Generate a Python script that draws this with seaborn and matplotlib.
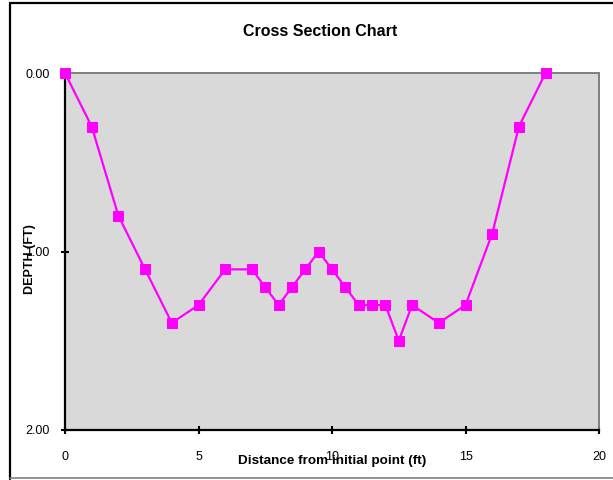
import matplotlib
matplotlib.use("Agg")
import matplotlib.pyplot as plt
import seaborn as sns
import pandas as pd
from matplotlib.lines import Line2D

distance = [0, 1, 2, 3, 4, 5, 6, 7, 7.5, 8, 8.5, 9, 9.5, 10, 10.5, 11, 11.5, 12, 12.5, 13, 14, 15, 16, 17, 18]
depth = [0.0, 0.3, 0.8, 1.1, 1.4, 1.3, 1.1, 1.1, 1.2, 1.3, 1.2, 1.1, 1.0, 1.1, 1.2, 1.3, 1.3, 1.3, 1.5, 1.3, 1.4, 1.3, 0.9, 0.3, 0.0]
x_ticks = [0, 5, 10, 15, 20]
y_ticks = [0.0, 1.0, 2.0]

sns.set_style("white")
plt.rcParams['font.family'] = ['Liberation Sans', 'DejaVu Sans']
plt.rcParams['text.color'] = 'black'
plt.rcParams['axes.labelcolor'] = 'black'
plt.rcParams['xtick.color'] = 'black'
plt.rcParams['ytick.color'] = 'black'

W, H = 613, 480
fig = plt.figure(figsize=(W / 100, H / 100), dpi=100)
L, R, T, B = 65, 599, 73, 430
ax = fig.add_axes([L / W, 1 - B / H, (R - L) / W, (B - T) / H])
ax.set_facecolor('#D9D9D9')

df = pd.DataFrame({'distance': distance, 'depth': depth})
sns.lineplot(data=df, x='distance', y='depth', ax=ax, color='#FF00FF',
             marker='s', markersize=7.2, markeredgecolor='#FF00FF',
             markerfacecolor='#FF00FF', linewidth=1.6, clip_on=False, zorder=5)

ax.set_xlim(0, 20)
ax.set_ylim(2, 0)
ax.set_xticks(x_ticks)
ax.set_xticklabels([str(v) for v in x_ticks])
ax.set_yticks(y_ticks)
ax.set_yticklabels([f"{v:.2f}" for v in y_ticks])
ax.tick_params(axis='both', direction='inout', length=6, width=1.5, color='black',
               labelsize=9, labelcolor='black')
ax.tick_params(axis='x', pad=12, bottom=True)
ax.tick_params(axis='y', pad=8, left=True)

for s in ['left', 'bottom']:
    ax.spines[s].set_color('black')
    ax.spines[s].set_linewidth(1.6)
for s in ['top', 'right']:
    ax.spines[s].set_color('#808080')
    ax.spines[s].set_linewidth(1.4)
    ax.spines[s].set_visible(True)

ax.set_xlabel('Distance from initial point (ft)', fontsize=9.7, fontweight='bold', color='black')
ax.set_ylabel('DEPTH (FT)', fontsize=9, fontweight='bold', color='black')
ax.xaxis.set_label_coords(0.5, -(461 - B) / (B - T), transform=ax.transAxes)
ax.yaxis.set_label_coords(-(L - 30) / (R - L), (B - 259) / (B - T))
ax.xaxis.label.set_va('center')
ax.yaxis.label.set_va('center')

fig.text(320 / W, 1 - 31 / H, 'Cross Section Chart', ha='center', va='center',
         fontsize=11.5, fontweight='bold', color='black')

# outer chart border
fig.add_artist(Line2D([10 / W, 10 / W], [1 - 3 / H, 1 - 479 / H], color='black', lw=1.6, transform=fig.transFigure))
fig.add_artist(Line2D([10 / W, 1], [1 - 3 / H, 1 - 3 / H], color='black', lw=1.6, transform=fig.transFigure))
fig.add_artist(Line2D([10 / W, 1], [1 - 478 / H, 1 - 478 / H], color='#808080', lw=1.2, transform=fig.transFigure))

fig.savefig('out.png', dpi=100)
